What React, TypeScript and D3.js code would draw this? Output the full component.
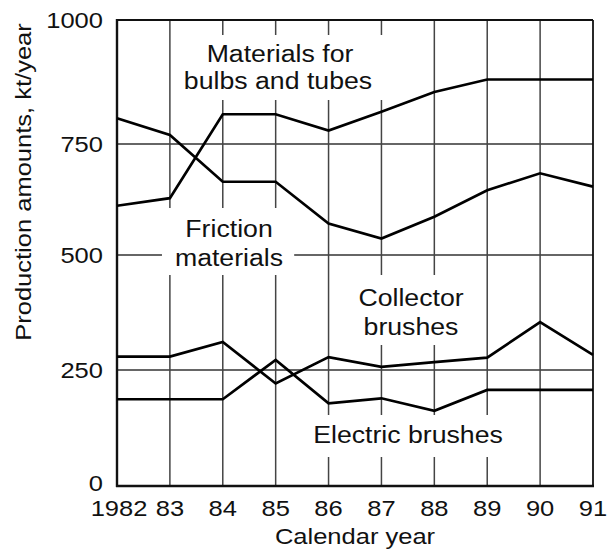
import React from "react";
import * as d3 from "d3";

const years = [1982, 1983, 1984, 1985, 1986, 1987, 1988, 1989, 1990, 1991];
const yearLabels = ["1982", "83", "84", "85", "86", "87", "88", "89", "90", "91"];
const bulbs = [611, 628, 810, 810, 777, 815, 855, 880, 880, 880];
const friction = [802, 768, 665, 665, 571, 537, 586, 646, 684, 654];
const collector = [279, 279, 311, 221, 278, 257, 267, 277, 354, 283];
const electric = [187, 187, 187, 272, 178, 189, 162, 207, 207, 207];
const yTicks = [0, 250, 500, 750, 1000];
const series = [bulbs, friction, collector, electric];

const W = 607;
const H = 554;
const FONT = "'Liberation Sans', Arial, Helvetica, sans-serif";
const SX = 1.16;

export default function App() {
  const x = d3.scaleLinear().domain([1982, 1991]).range([117, 593]);
  const y = d3.scaleLinear().domain(yTicks).range([486, 370, 255, 144, 20]);
  const line = d3
    .line<number>()
    .x((_, i) => x(years[i]))
    .y((d) => y(d));

  const boxes = [
    { x0: 1983.35, x1: 1987.15, y0: 35, y1: 100 },
    { x0: 1982.85, x1: 1985.35, y0: 208, y1: 275 },
    { x0: 1986.25, x1: 1988.75, y0: 275, y1: 345 },
    { x0: 1985.55, x1: 1989.35, y0: 415, y1: 457 },
  ];

  const labels = [
    { t: "Materials for", cx: 280, by: 62 },
    { t: "bulbs and tubes", cx: 278, by: 89 },
    { t: "Friction", cx: 229, by: 237 },
    { t: "materials", cx: 229, by: 266 },
    { t: "Collector", cx: 411, by: 306 },
    { t: "brushes", cx: 411, by: 335 },
    { t: "Electric brushes", cx: 408, by: 443 },
  ];

  const [x0, x1] = x.range();
  const y0 = y(0);
  const y1 = y(1000);

  return (
    <svg
      width={W}
      height={H}
      style={{ position: "absolute", left: 0, top: 0, background: "#fff" }}
      fontFamily={FONT}
    >
      <rect x={0} y={0} width={W} height={H} fill="#fff" />
      {yTicks
        .filter((v) => v > 0 && v < 1000)
        .map((v) => (
          <line key={"h" + v} x1={x0} x2={x1} y1={y(v)} y2={y(v)} stroke="#666" strokeWidth={2} />
        ))}
      {years.slice(1, -1).map((yr) => (
        <line key={"v" + yr} x1={x(yr)} x2={x(yr)} y1={y1} y2={y0} stroke="#444" strokeWidth={1.5} />
      ))}
      {boxes.map((b, i) => (
        <rect key={"b" + i} x={x(b.x0)} y={b.y0} width={x(b.x1) - x(b.x0)} height={b.y1 - b.y0} fill="#fff" />
      ))}
      <line x1={x0} x2={x1} y1={y1} y2={y1} stroke="#111" strokeWidth={1.8} />
      <line x1={x1} x2={x1} y1={y1} y2={y0} stroke="#111" strokeWidth={1.8} />
      <line x1={x0} x2={x0} y1={y1 - 1} y2={y0 + 1} stroke="#111" strokeWidth={2.4} />
      <line x1={x0 - 1} x2={x1 + 1} y1={y0} y2={y0} stroke="#111" strokeWidth={2.4} />
      {series.map((s, i) => (
        <path key={"s" + i} d={line(s) || ""} fill="none" stroke="#000" strokeWidth={2.7} strokeLinejoin="miter" />
      ))}
      {labels.map((l, i) => (
        <text
          key={"l" + i}
          transform={`translate(${l.cx},${l.by}) scale(${SX},1)`}
          textAnchor="middle"
          fontSize={23}
          fill="#111"
        >
          {l.t}
        </text>
      ))}
      {yTicks.map((v) => (
        <text
          key={"yt" + v}
          transform={`translate(103,${v === 0 ? 491 : y(v) + 8}) scale(${SX},1)`}
          textAnchor="end"
          fontSize={22}
          fill="#111"
        >
          {String(v)}
        </text>
      ))}
      {years.map((yr, i) => (
        <text
          key={"xt" + yr}
          transform={`translate(${x(yr) + (i === 0 ? 2 : 0)},516) scale(${SX},1)`}
          textAnchor="middle"
          fontSize={22}
          fill="#111"
        >
          {yearLabels[i]}
        </text>
      ))}
      <text
        transform={`translate(355,544) scale(${SX},1)`}
        textAnchor="middle"
        fontSize={22}
        fill="#111"
      >
        Calendar year
      </text>
      <text
        transform={`translate(31,182) rotate(-90) scale(${SX},1)`}
        textAnchor="middle"
        fontSize={22}
        fill="#111"
      >
        Production amounts, kt/year
      </text>
    </svg>
  );
}
